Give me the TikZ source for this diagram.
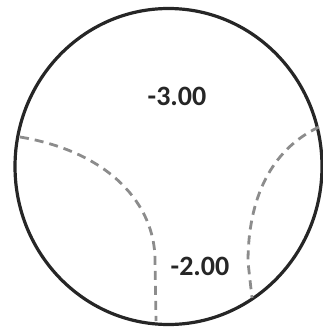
\documentclass[tikz,border=0pt]{standalone}
\usepackage{fontspec}
\setmainfont{Carlito}
\begin{document}
\begin{tikzpicture}[x=1pt,y=-1pt,
  rim/.style={line width=3.2pt,draw=black!85},
  zone/.style={line width=2.8pt,draw=black!45,dash pattern=on 9pt off 6pt},
  lbl/.style={font=\bfseries\fontsize{28}{30}\selectfont,text=black!85}]
\useasboundingbox (0,0) rectangle (323,329);
\coordinate (c) at (168.5,166.5);
\draw[rim] (c) ellipse [x radius=153.5, y radius=158];
\coordinate (l1) at (20,137);
\coordinate (l2) at (155,260);
\coordinate (l3) at (156,321);
\draw[zone] (l1) .. controls (110,152) and (155,205) .. (l2) -- (l3);
\coordinate (r1) at (319,127);
\coordinate (r2) at (248,262);
\coordinate (r3) at (252,298);
\draw[zone] (r1) .. controls (270,150) and (248,200) .. (r2) -- (r3);
\node[lbl] (t3) at (177,96) {-3.00};
\node[lbl] (t2) at (200,266) {-2.00};
\end{tikzpicture}
\end{document}
